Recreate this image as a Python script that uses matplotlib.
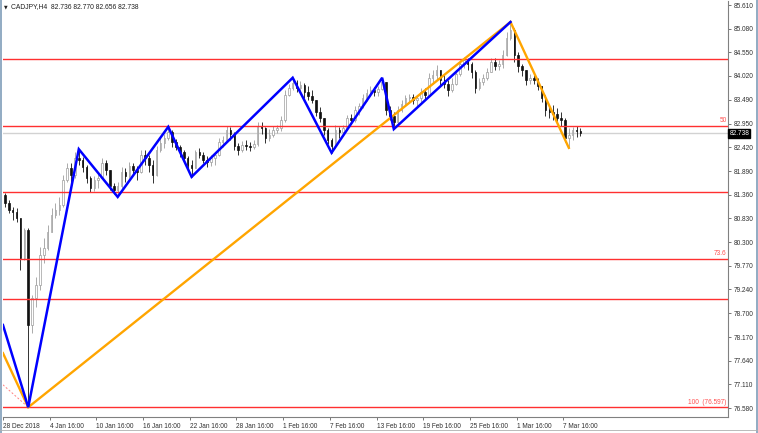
import matplotlib
matplotlib.use('Agg')
import matplotlib.pyplot as plt
from matplotlib.patches import Rectangle
from matplotlib.lines import Line2D

# CADJPY H4, one candle per two bars
first_open = 81.35
closes = [81.17, 81.02, 80.97, 80.84, 79.94, 80.57, 78.44, 79.05, 79.34, 80.01,
          80.17, 80.53, 80.91, 81.02, 81.13, 81.69, 81.96, 81.80, 82.18, 82.14,
          81.98, 81.74, 81.51, 81.69, 81.74, 82.07, 81.91, 81.56, 81.47, 81.56,
          81.87, 81.78, 82.00, 81.91, 81.87, 82.25, 82.18, 82.03, 81.80, 82.36,
          82.52, 82.63, 82.77, 82.54, 82.43, 82.32, 82.18, 82.03, 81.96, 82.32,
          82.25, 82.14, 82.09, 82.18, 82.25, 82.54, 82.59, 82.81, 82.72, 82.45,
          82.36, 82.47, 82.45, 82.43, 82.50, 82.90, 82.85, 82.63, 82.70, 82.81,
          82.85, 83.03, 83.59, 83.75, 83.86, 83.75, 83.82, 83.66, 83.57, 83.48,
          83.21, 83.08, 82.81, 82.59, 82.45, 82.81, 82.77, 82.85, 83.08, 83.03,
          83.26, 83.35, 83.53, 83.64, 83.71, 83.66, 83.73, 83.89, 83.26, 83.12,
          82.99, 83.26, 83.39, 83.53, 83.55, 83.48, 83.53, 83.66, 83.59, 83.98,
          84.04, 84.15, 83.93, 83.84, 83.71, 83.84, 84.06, 84.29, 84.38, 84.29,
          84.11, 83.75, 83.89, 83.98, 84.11, 84.33, 84.24, 84.29, 84.49, 84.87,
          85.05, 84.49, 84.24, 84.15, 83.93, 83.98, 83.93, 83.80, 83.53, 83.26,
          83.21, 83.17, 83.08, 83.03, 82.63, 82.70, 82.81, 82.79, 82.738]
highs = [81.40, 81.24, 81.09, 81.06, 80.84, 80.61, 80.61, 79.11, 79.52, 80.19,
         80.39, 80.68, 81.06, 81.17, 81.31, 81.80, 82.07, 82.07, 82.32, 82.38,
         82.21, 82.03, 81.78, 81.78, 81.87, 82.18, 82.14, 81.91, 81.62, 81.65,
         81.98, 81.96, 82.09, 82.07, 82.00, 82.36, 82.36, 82.25, 82.14, 82.45,
         82.65, 82.72, 82.88, 82.81, 82.61, 82.47, 82.36, 82.23, 82.14, 82.36,
         82.41, 82.32, 82.23, 82.25, 82.32, 82.63, 82.68, 82.90, 82.88, 82.77,
         82.52, 82.56, 82.59, 82.54, 82.59, 82.99, 82.99, 82.88, 82.83, 82.90,
         82.92, 83.12, 83.71, 83.84, 83.98, 83.93, 83.91, 83.86, 83.80, 83.71,
         83.48, 83.33, 83.08, 82.85, 82.63, 82.92, 82.88, 82.92, 83.15, 83.17,
         83.35, 83.42, 83.62, 83.73, 83.80, 83.77, 83.80, 83.98, 83.89, 83.35,
         83.21, 83.35, 83.48, 83.59, 83.62, 83.62, 83.59, 83.75, 83.75, 84.09,
         84.15, 84.27, 84.15, 84.04, 83.93, 83.98, 84.15, 84.38, 84.45, 84.42,
         84.33, 84.15, 83.98, 84.06, 84.20, 84.42, 84.42, 84.38, 84.60, 85.01,
         85.23, 85.10, 84.56, 84.29, 84.15, 84.06, 84.04, 83.98, 83.80, 83.59,
         83.35, 83.37, 83.30, 83.21, 83.08, 82.85, 82.88, 82.90, 82.85]
lows = [81.09, 80.95, 80.79, 80.75, 79.67, 79.90, 76.597, 78.26, 78.85, 79.23,
        79.83, 80.12, 80.53, 80.84, 80.91, 81.09, 81.65, 81.53, 81.74, 82.03,
        81.87, 81.62, 81.42, 81.44, 81.51, 81.74, 81.80, 81.47, 81.38, 81.31,
        81.51, 81.65, 81.74, 81.80, 81.69, 81.85, 82.03, 81.87, 81.62, 81.78,
        82.32, 82.41, 82.59, 82.43, 82.36, 82.21, 82.09, 81.91, 81.76, 81.96,
        82.18, 82.07, 81.98, 82.00, 82.03, 82.23, 82.43, 82.56, 82.59, 82.36,
        82.25, 82.32, 82.36, 82.34, 82.38, 82.45, 82.72, 82.52, 82.56, 82.65,
        82.74, 82.79, 82.99, 83.57, 83.71, 83.66, 83.66, 83.53, 83.48, 83.42,
        83.12, 82.99, 82.70, 82.50, 82.30, 82.41, 82.63, 82.68, 82.81, 82.94,
        82.99, 83.15, 83.30, 83.46, 83.57, 83.57, 83.57, 83.71, 83.15, 83.03,
        82.83, 82.94, 83.21, 83.35, 83.44, 83.39, 83.35, 83.44, 83.48, 83.66,
        83.84, 83.93, 83.82, 83.75, 83.57, 83.66, 83.82, 84.02, 84.20, 84.15,
        83.98, 83.64, 83.71, 83.82, 83.93, 84.11, 84.15, 84.15, 84.20, 84.47,
        84.83, 84.33, 84.11, 84.02, 83.82, 83.84, 83.84, 83.71, 83.44, 83.12,
        83.08, 83.03, 82.94, 82.90, 82.54, 82.41, 82.59, 82.65, 82.68]

# zigzag / trend lines (candle index, price)
blue_x = [-0.5, 6, 19, 29, 42, 48, 74, 84, 97, 100, 130]
blue_y = [78.44, 76.597, 82.38, 81.31, 82.88, 81.76, 83.98, 82.30, 83.98, 82.83, 85.23]
orange_x = [-0.5, 6, 130, 145]
orange_y = [77.81, 76.597, 85.23, 82.41]
fib_base_x = [-0.5, 6]
fib_base_y = [77.10, 76.597]

fib_levels = [84.40, 82.91, 81.43, 79.93, 79.02, 76.597]
fib_labels = ['', '50', '', '73.6', '', '100  (76.597)']

price_ticks = [85.610, 85.080, 84.550, 84.020, 83.490, 82.950, 82.420, 81.890, 81.360,
               80.830, 80.300, 79.770, 79.240, 78.700, 78.170, 77.640, 77.110, 76.580]
date_labels = ['28 Dec 2018', '4 Jan 16:00', '10 Jan 16:00', '16 Jan 16:00', '22 Jan 16:00',
               '28 Jan 16:00', '1 Feb 16:00', '7 Feb 16:00', '13 Feb 16:00', '19 Feb 16:00',
               '25 Feb 16:00', '1 Mar 16:00', '7 Mar 16:00']
last_price = 82.738
header = 'CADJPY,H4  82.736 82.770 82.656 82.738'

W, H = 758, 433
fig = plt.figure(figsize=(W / 100, H / 100), dpi=100)
ax = fig.add_axes([3 / W, 16 / H, 725 / W, 416 / H])
ax.set_xlim(-0.49, 185.93)
ax.set_ylim(76.379, 85.70)

FONT = 'Liberation Sans'
FS = 4.7

# candles
opens = [first_open] + closes[:-1]
for i, (o, h, l, c) in enumerate(zip(opens, highs, lows, closes)):
    bull = c >= o
    col = '#9c9c9c' if bull else '#111111'
    ax.vlines(i, l, h, color=col, lw=0.6, zorder=2)
    bot = min(o, c)
    hgt = max(abs(c - o), 0.012)
    ax.add_patch(Rectangle((i - 0.2, bot), 0.4, hgt, facecolor='white' if bull else col,
                           edgecolor=col, lw=0.5, zorder=3))

# current price line
ax.axhline(last_price, color='#d2d2d2', lw=1.0, zorder=1)

# fibo levels
for lvl, lab in zip(fib_levels, fib_labels):
    ax.axhline(lvl, color='#ff3030', lw=1.0, zorder=4)
    if lab:
        ax.text(0.998, lvl + 0.03, lab, transform=ax.get_yaxis_transform(),
                ha='right', va='bottom', color='#ff5050', fontsize=FS, family=FONT)
ax.plot(fib_base_x, fib_base_y, color='#ff8080', lw=0.7, ls=(0, (2, 2)), zorder=4)

# zigzag lines
ax.plot(orange_x, orange_y, color='#ffa500', lw=1.7, zorder=5, solid_joinstyle='miter')
ax.plot(blue_x, blue_y, color='#0000ff', lw=1.8, zorder=6, solid_joinstyle='miter')

# axes styling
for s in ['top', 'left']:
    ax.spines[s].set_visible(False)
for s in ['right', 'bottom']:
    ax.spines[s].set_color('#808080')
    ax.spines[s].set_linewidth(0.8)

ax.yaxis.tick_right()
ax.set_yticks(price_ticks)
ax.set_yticklabels(['%.3f' % p for p in price_ticks])
ax.set_xticks([12 * k - 0.45 for k in range(len(date_labels))])
ax.set_xticklabels(date_labels)
ax.tick_params(axis='y', length=2.5, width=0.6, color='#606060', pad=1.5,
               labelsize=FS, labelcolor='#303030')
ax.tick_params(axis='x', length=2.5, width=0.6, color='#606060', pad=1.5,
               labelsize=FS, labelcolor='#303030')
for t in ax.get_xticklabels():
    t.set_ha('left')
    t.set_family(FONT)
for t in ax.get_yticklabels():
    t.set_family(FONT)

# last price tag
ax.text(1.002, last_price, '%.3f' % last_price, transform=ax.get_yaxis_transform(),
        ha='left', va='center', color='white', fontsize=FS, family=FONT,
        bbox=dict(boxstyle='square,pad=0.15', fc='black', ec='black'), zorder=10,
        clip_on=False)

# header
fig.text(4 / W, 1 - 7 / H, '\u25bc', fontsize=3.4, va='center', ha='left', color='#202020')
fig.text(11 / W, 1 - 7 / H, header, fontsize=FS + 0.2, va='center', ha='left',
         color='#202020', family=FONT)

# window border
fig.add_artist(Line2D([0.6 / W, 0.6 / W], [0, 1], color='#7f9db9', lw=1.2))
fig.add_artist(Line2D([1 - 1.5 / W, 1 - 1.5 / W], [0, 1], color='#7f9db9', lw=1.2))
fig.add_artist(Line2D([0, 1], [3 / H, 3 / H], color='#b0b0b0', lw=0.6))

plt.savefig('out.png', dpi=100)
